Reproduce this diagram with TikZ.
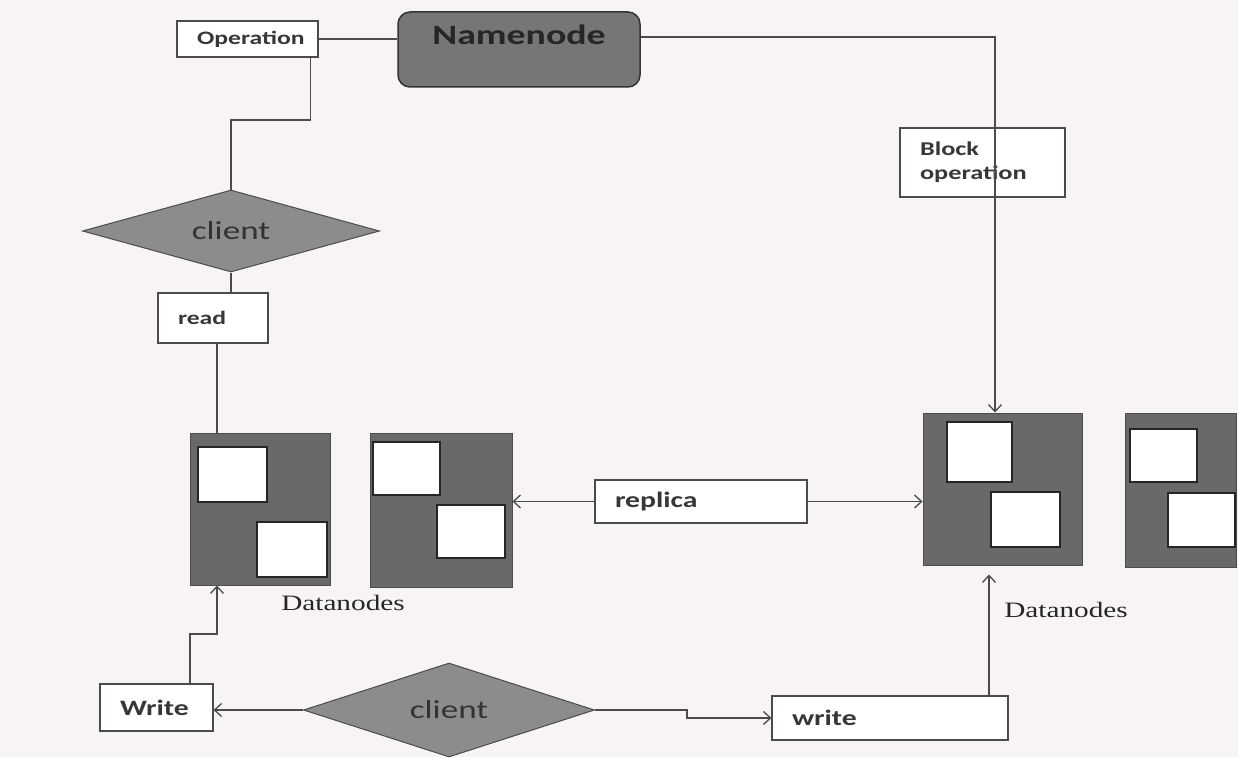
\documentclass[tikz,border=0pt]{standalone}
\usepackage{fontspec}
\usepackage{xcolor}
\usetikzlibrary{shapes.geometric,arrows.meta}
\newfontfamily\boxfont[FakeStretch=1.35]{Carlito}
\newfontfamily\dnfont[FakeStretch=1.33]{Liberation Serif}
\definecolor{paper}{RGB}{247,243,246}
\definecolor{inkline}{RGB}{75,75,75}
\definecolor{nodegray}{RGB}{118,118,118}
\definecolor{diagray}{RGB}{140,140,140}
\definecolor{dngray}{RGB}{105,105,105}
\definecolor{txtgray}{RGB}{55,55,55}

\begin{document}
\begin{tikzpicture}[x=1pt,y=-1pt,
  >={Straight Barb[length=7pt,width=13pt]},
  tag/.style={draw=inkline, line width=1.2pt, fill=white, inner xsep=20pt, inner ysep=0pt, align=left, text=txtgray, font=\boxfont\bfseries\fontsize{#1}{24}\selectfont},
  nnbox/.style={draw=black!80, line width=1.5pt, fill=nodegray, rounded corners=12pt, inner ysep=0pt, text=black!85, font=\boxfont\bfseries\fontsize{28}{30}\selectfont},
  dia/.style={diamond, aspect=3.3, draw=inkline, line width=1pt, fill=diagray, inner sep=0pt, text=black!80, font=\boxfont\fontsize{26}{28}\selectfont},
  dn/.style={draw=black!70, line width=1pt, fill=dngray},
  blk/.style={draw=black!85, line width=2.5pt, fill=white},
  dnlabel/.style={text=black!85, font=\dnfont\fontsize{22}{24}\selectfont},
  conn/.style={draw=inkline, line width=1.3pt}]
\useasboundingbox (0,0) rectangle (1238,757);
\fill[paper] (0,0) rectangle (1238,757);
% Namenode and operation
\node[nnbox, text height=33pt, text depth=42pt, minimum width=242pt, anchor=base] (nn) at (519,45) {Namenode};
\node[tag=19, text width=101pt, minimum height=36pt] (op) at (247.5,39) {Operation};
\node[tag=19.5, text width=125pt, minimum height=69pt] (blkop) at (982.5,162.5) {Block\\operation};
% Clients
\node[dia, minimum width=297pt, minimum height=82pt] (cl1) at (231,231) {client};
\node[dia, minimum width=291pt, minimum height=94pt] (cl2) at (449,710) {client};
\node[tag=19, text width=70pt, minimum height=50pt] (rd) at (213,318) {read};
\node[tag=22, text width=73pt, minimum height=47pt] (wr1) at (156.5,707.5) {Write};
\node[tag=22, text width=196pt, minimum height=44pt] (wr2) at (890,718) {write};
\node[tag=22, text width=172pt, minimum height=43pt] (rep) at (701,501.5) {replica};
% Datanodes
\node[dn, minimum width=140pt, minimum height=152pt] (dn1) at (260,509) {};
\node[blk, minimum width=69pt, minimum height=55pt] (dn1a) at (232.5,474.5) {};
\node[blk, minimum width=70pt, minimum height=55pt] (dn1b) at (292,549.5) {};
\node[dn, minimum width=142pt, minimum height=154pt] (dn2) at (441,510) {};
\node[blk, minimum width=67pt, minimum height=53pt] (dn2a) at (406.5,468.5) {};
\node[blk, minimum width=68pt, minimum height=53pt] (dn2b) at (471,531.5) {};
\node[dn, minimum width=159pt, minimum height=152pt] (dn3) at (1002.5,489) {};
\node[blk, minimum width=65pt, minimum height=60pt] (dn3a) at (979.5,452) {};
\node[blk, minimum width=69pt, minimum height=55pt] (dn3b) at (1025.5,519.5) {};
\node[dn, minimum width=111pt, minimum height=154pt] (dn4) at (1180.5,490) {};
\node[blk, minimum width=67pt, minimum height=53pt] (dn4a) at (1163.5,455.5) {};
\node[blk, minimum width=67pt, minimum height=54pt] (dn4b) at (1201.5,520) {};
\node[dnlabel] (dnl1) at (343,603) {Datanodes};
\node[dnlabel] (dnl2) at (1066,610) {Datanodes};
% Connectors
\coordinate (opbend) at (231,120);
\coordinate (nncorner) at (995,37);
\coordinate (wrbend) at (217,634);
\coordinate (clstep) at (687,713);
\draw[conn] (op.east) -- (op.east -| nn.west);
\draw[conn] ([xshift=-8pt]op.south east) |- (opbend) -- (cl1.north);
\draw[conn] (cl1.south) -- (cl1.south |- rd.north);
\draw[conn] ([xshift=4pt]rd.south) -- ([xshift=4pt]rd.south |- dn1.north);
\draw[conn,->] (nn.east |- nncorner) -- (nncorner) -- (nncorner |- dn3.north);
\draw[conn,->] (rep.west) -- (rep.west -| dn2.east);
\draw[conn,->] (rep.east) -- (rep.east -| dn3.west);
\draw[conn,->] (cl2.west) -- (cl2.west -| wr1.east);
\draw[conn,->] ([xshift=33.5pt]wr1.north) |- (wrbend) -- (wrbend |- dn1.south);
\draw[conn,->] (cl2.east) -- (cl2.east -| clstep) |- (wr2.west);
\draw[conn,->,shorten >=9pt] ([xshift=99pt]wr2.north) -- ([xshift=99pt]wr2.north |- dn3.south);
\end{tikzpicture}
\end{document}
